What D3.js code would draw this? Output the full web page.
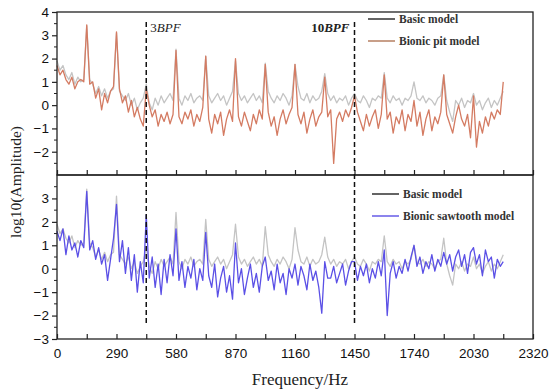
<!DOCTYPE html>
<html>
<head>
<meta charset="utf-8">
<script src="https://cdn.jsdelivr.net/npm/d3@7"></script>
<style>
  body { margin: 0; background: #fff; }
  svg { display: block; }
</style>
</head>
<body>
<script>
// Frequency step of the spectrum samples (Hz); BPF = 145 Hz
const freqStep = 14.5;

// log10 amplitude, basic model (same in both panels)
const basicModel = [
  1.9, 1.5, 1.7, 1.3, 1.1, 1.4, 0.9, 1.2, 1.0, 1.1,
  3.4, 1.1, 0.9, 0.5, 0.8, 0.4, 0.7, 0.3, 0.6, 0.7,
  3.1, 0.6, 0.4, 0.2, 0.5, 0.0, 0.3, -0.2, 0.1, 0.3,
  0.9, 0.1, -0.2, 0.3, 0.0, 0.4, 0.1, 0.3, 0.5, 0.2,
  2.4, 0.3, 0.0, 0.4, 0.2, 0.5, 0.1, 0.3, 0.4, 0.2,
  2.1, 0.4, 0.1, 0.3, 0.5, 0.2, 0.4, 0.0, 0.3, 0.6,
  1.9, 0.5, 0.2, 0.4, 0.1, 0.3, 0.5, 0.2, 0.4, 0.1,
  1.8, 0.6, 0.3, 0.1, 0.4, 0.2, 0.5, 0.3, 0.0, 0.4,
  1.75, 0.8, 0.3, 0.2, 0.5, 0.1, 0.4, 0.2, 0.3, 0.6,
  1.35, 0.5, 0.2, 0.4, 0.1, 0.3, 0.2, 0.4, 0.0, 0.3,
  0.5, 0.2, 0.1, 0.4, 0.2, -0.1, 0.3, 0.2, 0.4, 0.3,
  1.4, 0.3, 0.1, 0.4, 0.2, 0.3, 0.0, 0.3, 0.2, 0.4,
  1.0, 0.3, 0.2, 0.4, 0.1, 0.3, 0.2, 0.0, 0.3, 0.4,
  1.3, 0.2, -0.3, -0.7, 0.2, 0.0, 0.3, -0.1, 0.2, 0.1,
  0.5, 0.0, 0.2, -0.2, 0.1, 0.3, -0.1, 0.2, 0.0, 0.3,
  0.6
];

// log10 amplitude, bionic pit model (top panel)
const pitModel = [
  1.7, 1.3, 1.5, 1.1, 0.9, 1.2, 0.7, 1.0, 1.1, 1.0,
  3.45, 0.9, 1.0, 0.3, 0.7, -0.2, 0.5, 0.1, 0.6, 0.8,
  3.15, 0.7, 0.1, 0.4, -0.3, 0.2, -0.5, -0.1, -0.6, -0.9,
  0.7, 0.0, -0.5, -0.2, -0.9, -0.4, -0.7, -0.3, -0.8, -0.4,
  2.35, -0.5, -0.8, -0.3, -0.6, -0.2, -0.9, -0.4, -0.7, -0.1,
  2.1, -0.6, -1.2, -0.4, -0.8, -0.3, -1.3, -0.6, -0.2, -0.7,
  2.0, -0.5, -0.9, -0.3, -0.7, -1.1, -0.4, -0.8, -0.2, -0.6,
  1.75, -0.3, -0.9, -0.5, -1.3, -0.6, -0.2, -0.8, -0.4, -0.1,
  1.75, -0.4, -0.8, -0.3, -1.2, -0.6, -0.2, -0.9, -0.5, -0.3,
  1.2, -0.5, -0.2, -2.5, -0.6, -0.3, -0.7, -0.2, -0.5, -0.1,
  0.4, -0.3, -0.7, -1.1, -0.4, -0.9, -0.5, -0.2, -1.0, -0.4,
  1.3, -0.6, -0.3, -1.2, -0.5, -0.8, -0.2, -1.1, -0.4, -0.7,
  0.2, -0.9, -0.3, -1.3, -0.6, -0.2, -1.1, -0.5, -0.8, -0.3,
  1.3, -0.4, -0.8, -1.2, -0.5, 0.0, -0.6, -0.9, -0.4, -1.4,
  0.4, -1.8, -0.7, -1.2, -0.5, -0.9, -0.3, -0.6, -0.2, -0.4,
  1.0
];

// log10 amplitude, bionic sawtooth model (bottom panel)
const sawtoothModel = [
  1.6, 1.2, 1.7, 0.6, 1.4, 0.8, 1.1, 0.5, 1.2, 0.9,
  3.3, 0.8, 1.2, 0.4, 0.9, 0.2, 0.6, -0.5, 0.4, 1.3,
  2.75, 0.3, 1.2, -0.2, 0.9, -0.5, 0.6, -1.0, 0.3, -0.6,
  2.3, -0.4, 0.5, -0.8, 0.2, -1.1, 0.4, -0.6, 0.6, -0.3,
  1.7, -0.5, 0.3, -0.8, 0.1, -0.4, 0.4, -0.9, 0.0, -0.5,
  1.55, -0.3, -0.8, 0.2, -1.2, -0.4, 0.1, -1.0, -0.3, -1.3,
  1.1, -0.6, 0.0, -1.1, -0.4, 0.2, -0.8, -0.2, -1.0, 0.1,
  0.5, -0.5, -0.1, -0.9, 0.2, -0.6, -0.2, -1.1, 0.0, -0.4,
  0.2, -0.7, 0.1, -0.3, -0.9, 0.2, -0.5, -0.1, -0.8, -1.9,
  0.3, -0.4, -0.4, 0.1, -0.6, -0.2, 0.2, -0.7, -0.1, 0.3,
  0.3, -0.5, 0.1, -0.3, 0.2, -0.6, 0.0, -0.4, 0.3, -0.3,
  0.8, -2.0, -0.2, 0.3, -0.4, 0.1, -0.2, 0.4, -0.1, 0.5,
  1.0, 0.1, 0.5, -0.2, 0.3, 0.0, 0.6, -0.1, 0.4, 0.1,
  0.7, 0.2, 0.6, -0.1, 0.5, 0.8, 0.1, 0.6, -0.2, 0.7,
  0.9, 0.2, 0.6, -0.3, 0.8, 0.3, 0.5, -0.4, 0.4, 0.1,
  0.3
];

const xTickValues = [0, 290, 580, 870, 1160, 1450, 1740, 2030, 2320];
const topYTicks = [-2, -1, 0, 1, 2, 3, 4];
const bottomYTicks = [-3, -2, -1, 0, 1, 2, 3];
const bpfMarks = [
  { freq: 435, num: "3", side: "right", bold: false },
  { freq: 1450, num: "10", side: "left", bold: true }
];

const width = 550, height = 391;
const left = 57, right = 533;
const topPanel = { y0: 12, y1: 175 };
const bottomPanel = { y0: 175, y1: 339 };

const basicColor = "#c4c4c4";
const pitColor = "#d47b62";
const sawColor = "#5b50e6";

const svg = d3.select("body").append("svg")
  .attr("width", width)
  .attr("height", height);

const x = d3.scaleLinear().domain([0, 2320]).range([left, right]);

function drawPanel(panel, yTicks, series, legendItems, legendPos, showXLabels) {
  const y = d3.scaleLinear().domain([-3, 4]).range([panel.y1, panel.y0]);

  const line = d3.line()
    .x((d, i) => x(i * freqStep))
    .y(d => y(d));

  series.forEach(s => {
    svg.append("path")
      .datum(s.values)
      .attr("fill", "none")
      .attr("stroke", s.color)
      .attr("stroke-width", 1.3)
      .attr("stroke-linejoin", "round")
      .attr("d", line);
  });

  // frame
  svg.append("rect")
    .attr("x", left).attr("y", panel.y0)
    .attr("width", right - left).attr("height", panel.y1 - panel.y0)
    .attr("fill", "none").attr("stroke", "#222").attr("stroke-width", 1.3);

  // y axis, outward ticks
  const yAxis = svg.append("g")
    .attr("transform", `translate(${left},0)`)
    .call(d3.axisLeft(y).tickValues(yTicks).tickSize(5).tickPadding(3).tickFormat(d => d < 0 ? "\u2212" + Math.abs(d) : d));
  yAxis.select(".domain").remove();
  yAxis.selectAll("text").attr("font-family", "Liberation Sans, Arial, sans-serif").attr("font-size", 13.5).attr("fill", "#111");
  yAxis.selectAll("line").attr("stroke", "#222").attr("stroke-width", 1.2);

  const yMinor = d3.range(-2.5, 4, 1);
  svg.append("g")
    .selectAll("line")
    .data(yMinor)
    .join("line")
    .attr("x1", left - 3).attr("x2", left)
    .attr("y1", d => y(d)).attr("y2", d => y(d))
    .attr("stroke", "#222").attr("stroke-width", 1);

  // x axis, inward ticks at every BPF
  const xAxis = svg.append("g")
    .attr("transform", `translate(0,${panel.y1})`)
    .call(d3.axisBottom(x).tickValues(d3.range(0, 2321, 145)).tickSizeInner(-5).tickSizeOuter(0).tickPadding(9)
      .tickFormat(d => showXLabels && xTickValues.includes(d) ? d : ""));
  xAxis.select(".domain").remove();
  xAxis.selectAll("line").attr("stroke", "#222").attr("stroke-width", 1.2);
  xAxis.selectAll("text").attr("font-family", "Liberation Sans, Arial, sans-serif").attr("font-size", 13.5).attr("fill", "#111");

  // legend
  legendItems.forEach((item, i) => {
    const ly = legendPos.y + i * 22;
    svg.append("line")
      .attr("x1", legendPos.x).attr("x2", legendPos.x + 27)
      .attr("y1", ly).attr("y2", ly)
      .attr("stroke", item.color).attr("stroke-width", 1.4);
    svg.append("text")
      .attr("x", legendPos.x + 31).attr("y", ly + 4)
      .attr("font-family", "Liberation Serif, Times New Roman, serif")
      .attr("font-size", 11.5).attr("font-weight", "bold").attr("fill", "#333")
      .text(item.label);
  });
}

drawPanel(topPanel, topYTicks,
  [{ values: basicModel, color: basicColor }, { values: pitModel, color: pitColor }],
  [{ label: "Basic model", color: "#222" }, { label: "Bionic pit model", color: "#b07656" }],
  { x: 368, y: 19 }, false);

drawPanel(bottomPanel, bottomYTicks,
  [{ values: basicModel, color: basicColor }, { values: sawtoothModel, color: sawColor }],
  [{ label: "Basic model", color: "#222" }, { label: "Bionic sawtooth model", color: sawColor }],
  { x: 372, y: 194 }, true);

// BPF dashed markers
bpfMarks.forEach(m => {
  svg.append("line")
    .attr("x1", x(m.freq)).attr("x2", x(m.freq))
    .attr("y1", 22).attr("y2", 324)
    .attr("stroke", "#111").attr("stroke-width", 1.5)
    .attr("stroke-dasharray", "5,3");
  const t = svg.append("text")
    .attr("x", m.side === "right" ? x(m.freq) + 4 : x(m.freq) - 5)
    .attr("y", 32)
    .attr("text-anchor", m.side === "right" ? "start" : "end")
    .attr("font-family", "Liberation Serif, Times New Roman, serif")
    .attr("font-size", 13)
    .attr("font-weight", m.bold ? "bold" : "normal")
    .attr("fill", "#222");
  t.append("tspan").text(m.num);
  t.append("tspan").attr("font-style", "italic").text("BPF");
});

// axis titles
svg.append("text")
  .attr("x", 300).attr("y", 385)
  .attr("text-anchor", "middle")
  .attr("font-family", "Liberation Serif, Times New Roman, serif")
  .attr("font-size", 17).attr("fill", "#222")
  .text("Frequency/Hz");

svg.append("text")
  .attr("transform", "translate(21,182) rotate(-90)")
  .attr("text-anchor", "middle")
  .attr("font-family", "Liberation Serif, Times New Roman, serif")
  .attr("font-size", 15.5).attr("fill", "#222")
  .text("log10(Amplitude)");
</script>
</body>
</html>
